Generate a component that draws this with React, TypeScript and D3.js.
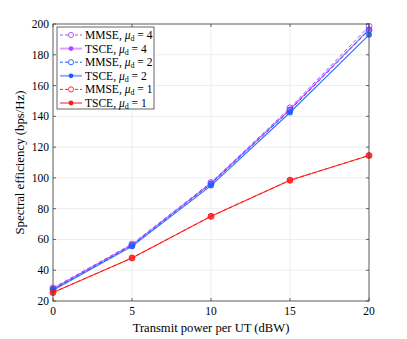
import React from "react";
import * as d3 from "d3";

const powers = [0, 5, 10, 15, 20];
const mmse4 = [28.5, 57, 97, 145.5, 198.5];
const tsce4 = [28, 56.5, 96.5, 144.5, 196.5];
const mmse2 = [27.5, 56, 96, 144, 196];
const tsce2 = [27, 55.5, 95, 142.5, 193];
const mmse1 = [25.5, 48, 75, 98.5, 114.5];
const tsce1 = [25.5, 48, 75, 98.5, 114.5];
const xTicks = [0, 5, 10, 15, 20];
const yTicks = [20, 40, 60, 80, 100, 120, 140, 160, 180, 200];

const series = [
  { name: "MMSE", mu: "4", values: mmse4, color: "#b347ff", dashed: true },
  { name: "TSCE", mu: "4", values: tsce4, color: "#b347ff", dashed: false },
  { name: "MMSE", mu: "2", values: mmse2, color: "#1a5cff", dashed: true },
  { name: "TSCE", mu: "2", values: tsce2, color: "#1a5cff", dashed: false },
  { name: "MMSE", mu: "1", values: mmse1, color: "#ff1a1a", dashed: true },
  { name: "TSCE", mu: "1", values: tsce1, color: "#ff1a1a", dashed: false },
];

const W = 407;
const H = 339;
const m = { left: 53, right: 38, top: 24, bottom: 38 };
const font = "'Liberation Serif', 'DejaVu Serif', serif";

export default function App() {
  const x = d3.scaleLinear().domain([0, 20]).range([m.left, W - m.right]);
  const y = d3.scaleLinear().domain([20, 200]).range([H - m.bottom, m.top]);
  const line = d3
    .line<number>()
    .x((_, i) => x(powers[i]))
    .y((d) => y(d));
  const x0 = x(0), x1 = x(20), y0 = y(20), y1 = y(200);

  const legX = 57, legY = 27, rowH = 13.6;

  return (
    <svg width={W} height={H} style={{ position: "absolute", left: 0, top: 0, background: "#fff" }}>
      <rect x={0} y={0} width={W} height={H} fill="#fff" />
      {xTicks.map((t) => (
        <line key={"gx" + t} x1={x(t)} x2={x(t)} y1={y0} y2={y1} stroke="#e6e6e6" strokeWidth={0.7} />
      ))}
      {yTicks.map((t) => (
        <line key={"gy" + t} x1={x0} x2={x1} y1={y(t)} y2={y(t)} stroke="#e6e6e6" strokeWidth={0.7} />
      ))}
      {series.map((s, k) => (
        <g key={k}>
          <path
            d={line(s.values) || ""}
            fill="none"
            stroke={s.color}
            strokeWidth={s.dashed ? 1 : 1.1}
            strokeDasharray={s.dashed ? "4,2.5" : undefined}
            opacity={s.dashed ? 1 : 0.9}
          />
          {s.values.map((v, i) =>
            s.dashed ? (
              <circle key={i} cx={x(powers[i])} cy={y(v)} r={3} fill="none" stroke={s.color} strokeWidth={0.9} />
            ) : (
              <circle key={i} cx={x(powers[i])} cy={y(v)} r={3} fill={s.color} opacity={0.85} />
            )
          )}
        </g>
      ))}
      <rect x={x0} y={y1} width={x1 - x0} height={y0 - y1} fill="none" stroke="#404040" strokeWidth={0.8} />
      {xTicks.map((t) => (
        <g key={"tx" + t}>
          <line x1={x(t)} x2={x(t)} y1={y0} y2={y0 - 3} stroke="#404040" strokeWidth={0.8} />
          <line x1={x(t)} x2={x(t)} y1={y1} y2={y1 + 3} stroke="#404040" strokeWidth={0.8} />
          <text x={x(t)} y={y0 + 14} textAnchor="middle" fontFamily={font} fontSize={11.5}>{t}</text>
        </g>
      ))}
      {yTicks.map((t) => (
        <g key={"ty" + t}>
          <line x1={x0} x2={x0 + 3} y1={y(t)} y2={y(t)} stroke="#404040" strokeWidth={0.8} />
          <line x1={x1} x2={x1 - 3} y1={y(t)} y2={y(t)} stroke="#404040" strokeWidth={0.8} />
          <text x={x0 - 4} y={y(t) + 4} textAnchor="end" fontFamily={font} fontSize={11.5}>{t}</text>
        </g>
      ))}
      <text x={(x0 + x1) / 2} y={y0 + 31} textAnchor="middle" fontFamily={font} fontSize={12.6}>
        Transmit power per UT (dBW)
      </text>
      <text
        transform={`translate(${24},${(y0 + y1) / 2}) rotate(-90)`}
        textAnchor="middle"
        fontFamily={font}
        fontSize={12.8}
      >
        Spectral efficiency (bps/Hz)
      </text>
      <g>
        <rect x={legX} y={legY} width={97} height={82} fill="#fff" stroke="#404040" strokeWidth={0.8} />
        {series.map((s, k) => {
          const cy = legY + 8 + k * rowH;
          return (
            <g key={"l" + k}>
              <line
                x1={legX + 3}
                x2={legX + 25}
                y1={cy}
                y2={cy}
                stroke={s.color}
                strokeWidth={s.dashed ? 1 : 2}
                strokeDasharray={s.dashed ? "3,2" : undefined}
                opacity={s.dashed ? 1 : 0.5}
              />
              {s.dashed ? (
                <circle cx={legX + 14} cy={cy} r={2.6} fill="#fff" stroke={s.color} strokeWidth={0.9} />
              ) : (
                <circle cx={legX + 14} cy={cy} r={2.4} fill={s.color} />
              )}
              <text x={legX + 28} y={cy + 4} fontFamily={font} fontSize={11.5}>
                {s.name}, <tspan fontStyle="italic">μ</tspan>
                <tspan fontSize={8} dy={2}>d</tspan>
                <tspan dy={-2}> = {s.mu}</tspan>
              </text>
            </g>
          );
        })}
      </g>
    </svg>
  );
}
